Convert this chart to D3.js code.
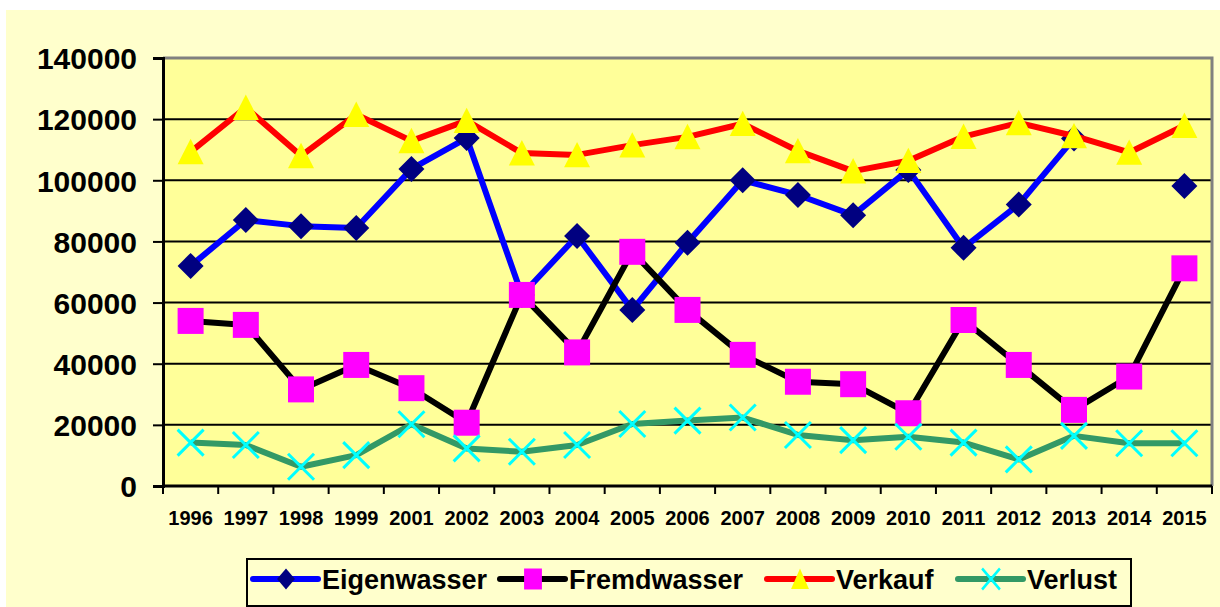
<!DOCTYPE html>
<html lang="de">
<head>
  <meta charset="UTF-8">
  <title>Wasserbilanz 1996-2015</title>
  <style>
    body { margin: 0; padding: 0; background: #fff; }
    svg { display: block; font-family: "Liberation Sans", Arial, sans-serif; }
    .ylab text { font-size: 30px; font-weight: bold; }
    .xlab text { font-size: 20px; font-weight: bold; }
    .legend text { font-size: 27px; font-weight: bold; }
  </style>
</head>
<body>
<div id="chart"></div>

<script src="https://d3js.org/d3.v7.min.js"></script>
<script>
  // Data
  const years = ["1996", "1997", "1998", "1999", "2001", "2002", "2003", "2004", "2005", "2006",
                 "2007", "2008", "2009", "2010", "2011", "2012", "2013", "2014", "2015"];
  const eigenwasser = [72000, 87000, 85000, 84400, 103700, 113800, 62500, 81800, 57600, 79600,
                       100000, 95200, 88600, 103400, 77900, 92100, 113700, null, 98100];
  const fremdwasser = [54000, 52700, 31600, 39600, 32000, 20700, 62500, 43700, 76600, 57600,
                       42900, 34100, 33300, 23800, 54300, 39600, 24900, 35800, 71200];
  const verkauf = [109300, 123800, 108000, 121500, 112900, 119500, 108900, 108300, 111500, 114200,
                   118500, 109600, 103000, 106400, 114300, 118800, 114500, 109100, 117900];
  const verlust = [14200, 13400, 6300, 10100, 20200, 12300, 11200, 13400, 20300, 21400,
                   22400, 16700, 15000, 16100, 14200, 8700, 16400, 14000, 14000];
  const yTicks = [0, 20000, 40000, 60000, 80000, 100000, 120000, 140000];

  const series = [
    { name: "Eigenwasser", values: eigenwasser, line: "#0000ff", fill: "#000080", marker: "diamond" },
    { name: "Fremdwasser", values: fremdwasser, line: "#000000", fill: "#ff00ff", marker: "square" },
    { name: "Verkauf", values: verkauf, line: "#ff0000", fill: "#ffff00", marker: "triangle" },
    { name: "Verlust", values: verlust, line: "#339966", fill: "#00ffff", marker: "cross" }
  ];

  const width = 1220, height = 607;
  const plot = { left: 163, right: 1212, top: 58, bottom: 486 };

  const svg = d3.select("#chart").append("svg")
      .attr("width", width)
      .attr("height", height);

  // outer chart area
  svg.append("rect")
      .attr("x", 6).attr("y", 10)
      .attr("width", width - 6).attr("height", height - 10)
      .attr("fill", "#ffffcc");

  const x = d3.scaleBand().domain(years).range([plot.left, plot.right]);
  const y = d3.scaleLinear().domain([0, 140000]).range([plot.bottom, plot.top]);
  const cx = d => x(d) + x.bandwidth() / 2;

  // plot area
  svg.append("rect")
      .attr("x", plot.left).attr("y", plot.top)
      .attr("width", plot.right - plot.left).attr("height", plot.bottom - plot.top)
      .attr("fill", "#ffff99");

  // gridlines
  svg.append("g")
    .selectAll("line")
    .data(yTicks.filter(v => v > 0 && v < 140000))
    .join("line")
      .attr("x1", plot.left).attr("x2", plot.right)
      .attr("y1", d => y(d)).attr("y2", d => y(d))
      .attr("stroke", "#000").attr("stroke-width", 2);

  // plot border (grey top / right)
  svg.append("path")
      .attr("d", `M${plot.left},${plot.top}H${plot.right}V${plot.bottom}`)
      .attr("fill", "none").attr("stroke", "#808080").attr("stroke-width", 3);

  // y axis
  const yAxis = svg.append("g")
      .attr("class", "ylab")
      .attr("transform", `translate(${plot.left},0)`)
      .call(d3.axisLeft(y).tickValues(yTicks).tickFormat(d3.format("d")).tickSize(10).tickPadding(16));
  yAxis.select(".domain").attr("stroke", "#000").attr("stroke-width", 3);
  yAxis.selectAll(".tick line").attr("stroke", "#000").attr("stroke-width", 2);
  yAxis.selectAll("text").attr("fill", "#000").attr("dy", "0.36em");

  // x axis: labels from the band axis, ticks on category boundaries
  const xAxis = svg.append("g")
      .attr("class", "xlab")
      .attr("transform", `translate(0,${plot.bottom})`)
      .call(d3.axisBottom(x).tickSize(0).tickPadding(25));
  xAxis.select(".domain").remove();
  xAxis.selectAll("text").attr("fill", "#000");

  const bounds = years.map(d => x(d)).concat([plot.right]);
  svg.append("g")
    .selectAll("line")
    .data(bounds)
    .join("line")
      .attr("x1", d => d).attr("x2", d => d)
      .attr("y1", plot.bottom).attr("y2", plot.bottom + 8)
      .attr("stroke", "#000").attr("stroke-width", 2);
  svg.append("line")
      .attr("x1", plot.left).attr("x2", plot.right)
      .attr("y1", plot.bottom).attr("y2", plot.bottom)
      .attr("stroke", "#000").attr("stroke-width", 3);

  // marker paths
  function markerPath(type, s) {
    const h = s / 2;
    if (type === "diamond") return `M0,${-h}L${h},0L0,${h}L${-h},0Z`;
    if (type === "square") return `M${-h},${-h}H${h}V${h}H${-h}Z`;
    if (type === "triangle") return `M0,${-h}L${h},${h * 0.95}L${-h},${h * 0.95}Z`;
    return `M${-h},${-h}L${h},${h}M${h},${-h}L${-h},${h}`;
  }
  function styleMarker(sel, s) {
    if (s.marker === "cross") sel.attr("fill", "none").attr("stroke", s.fill).attr("stroke-width", 3);
    else sel.attr("fill", s.fill).attr("stroke", "none");
  }

  const line = d3.line()
      .defined(d => d.v != null)
      .x(d => cx(d.year))
      .y(d => y(d.v));

  series.forEach(s => {
    const pts = years.map((yr, i) => ({ year: yr, v: s.values[i] }));
    const g = svg.append("g");
    g.append("path")
        .datum(pts)
        .attr("d", line)
        .attr("fill", "none")
        .attr("stroke", s.line)
        .attr("stroke-width", 6)
        .attr("stroke-linejoin", "round");
    g.selectAll("path.m")
      .data(pts.filter(d => d.v != null))
      .join("path")
        .attr("class", "m")
        .attr("transform", d => `translate(${cx(d.year)},${y(d.v)})`)
        .attr("d", markerPath(s.marker, 26))
        .call(sel => styleMarker(sel, s));
  });

  // legend
  const legend = svg.append("g").attr("class", "legend");
  legend.append("rect")
      .attr("x", 247).attr("y", 559)
      .attr("width", 884).attr("height", 47)
      .attr("fill", "#ffffcc").attr("stroke", "#000").attr("stroke-width", 2);

  const legendX = [253, 500, 767, 958];
  series.forEach((s, i) => {
    const g = legend.append("g").attr("transform", `translate(${legendX[i]},579)`);
    g.append("line")
        .attr("x1", 0).attr("x2", 65)
        .attr("stroke", s.line).attr("stroke-width", 6).attr("stroke-linecap", "round");
    g.append("path")
        .attr("transform", "translate(33,0) scale(0.85,1)")
        .attr("d", markerPath(s.marker, 21))
        .call(sel => styleMarker(sel, s));
    g.append("text")
        .attr("x", 69).attr("y", 10)
        .attr("fill", "#000")
        .text(s.name);
  });
</script>
</body>
</html>
